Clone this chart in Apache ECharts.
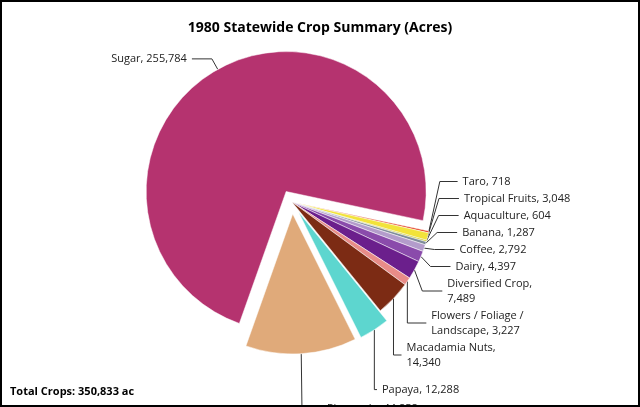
<!DOCTYPE html>
<html><head><meta charset="utf-8">
<script src="https://cdn.jsdelivr.net/npm/echarts@6/dist/echarts.min.js"></script>
<style>html,body{margin:0;padding:0;background:#fff}#c{width:640px;height:407px;box-sizing:border-box;border:2px solid #000;box-shadow:3px 3px 4px #555}</style>
</head><body><div id="c"></div>
<script>
const categories=["Taro","Tropical Fruits","Aquaculture","Banana","Coffee","Dairy","Diversified Crop","Flowers / Foliage /\nLandscape","Macadamia Nuts","Papaya","Pineapple","Sugar"];
const values=[718,3048,604,1287,2792,4397,7489,3227,14340,12288,44858,255784];
const colors=["#e2381a","#f2e33a","#c9c92a","#7f8c9a","#b39ccb","#8a4bab","#6b1f8c","#e88c88","#7c2b14","#5dd6cf","#e0aa7a","#b5336f"];
const chart=echarts.init(document.getElementById('c'));
chart.setOption({
  title:{text:"1980 Statewide Crop Summary (Acres)",left:'center',top:14,textStyle:{fontFamily:'Open Sans',fontSize:14,fontWeight:'bold',color:'#000'}},
  graphic:[{type:'text',left:8,bottom:8,style:{text:'Total Crops: 350,833 ac',font:'bold 11px "Open Sans"',fill:'#000'}}],
  series:[{type:'pie',center:[290,200],radius:[0,140],startAngle:-12,clockwise:true,
    selectedMode:'multiple',selectedOffset:12,
    data:categories.map((c,i)=>({name:c,value:values[i],selected:(c==='Sugar'||c==='Pineapple'||c==='Papaya'),
      itemStyle:{color:colors[i],borderColor:'#fff',borderWidth:0.5}})),
    label:{formatter:p=>{const n=p.value.toLocaleString('en-US');return p.name.indexOf('\n')>=0?p.name+', '+n:((p.name==='Diversified Crop'||p.name==='Macadamia Nuts')?p.name+',\n'+n:p.name+', '+n);},
      fontFamily:'Open Sans',fontSize:11,color:'#222',lineHeight:15},
    labelLine:{length:12,length2:20,lineStyle:{color:'#333'}},
    avoidLabelOverlap:true,labelLayout:{hideOverlap:false,moveOverlap:'shiftY'}
  }]
});
</script></body></html>
